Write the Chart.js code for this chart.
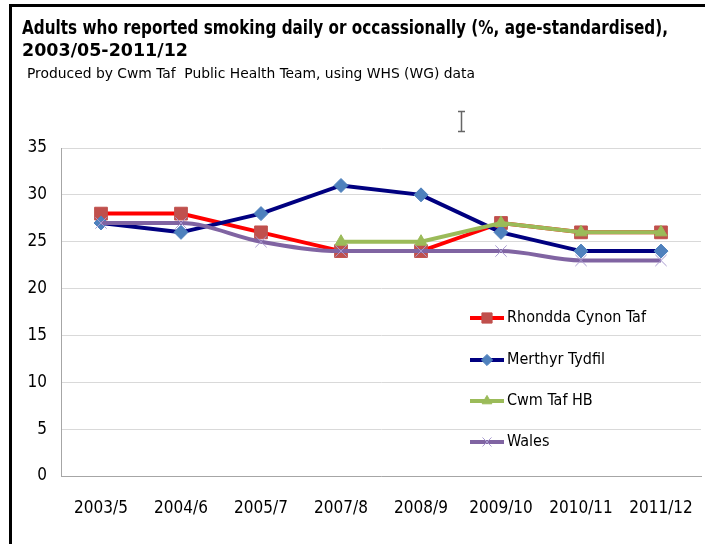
<!DOCTYPE html>
<html>
<head>
<meta charset="utf-8">
<script src="https://cdn.jsdelivr.net/npm/chart.js@4/dist/chart.umd.min.js"></script>
<style>
  html, body { margin: 0; padding: 0; background: #ffffff; }
  #wrap { position: absolute; left: 0; top: 0; width: 705px; height: 544px; }
</style>
</head>
<body>
<div id="wrap"><canvas id="c" width="705" height="544"></canvas></div>
<script>
// ---- data ----
const titleLines = ["Adults who reported smoking daily or occassionally (%, age-standardised),", "2003/05-2011/12"];
const subtitleText = "Produced by Cwm Taf  Public Health Team, using WHS (WG) data";
const categories = ["2003/5", "2004/6", "2005/7", "2007/8", "2008/9", "2009/10", "2010/11", "2011/12"];
const seriesNames = ["Rhondda Cynon Taf", "Merthyr Tydfil", "Cwm Taf HB", "Wales"];
const rhonddaCynonTaf = [28, 28, 26, 24, 24, 27, 26, 26];
const merthyrTydfil = [27, 26, 28, 31, 30, 26, 24, 24];
const cwmTafHB = [null, null, null, 25, 25, 27, 26, 26];
const wales = [27, 27, 25, 24, 24, 24, 23, 23];
const yTicks = [0, 5, 10, 15, 20, 25, 30, 35];

const FONT = "'Liberation Sans Narrow', 'DejaVu Sans Condensed', 'Liberation Sans', sans-serif";

function fitText(ctx, text, x, y, targetW) {
  const w = ctx.measureText(text).width;
  ctx.save();
  ctx.translate(x, y);
  ctx.scale(targetW / w, 1);
  ctx.fillText(text, 0, 0);
  ctx.restore();
}

const decorPlugin = {
  id: 'decor',
  beforeDraw(chart) {
    const ctx = chart.ctx;
    ctx.save();
    ctx.fillStyle = '#ffffff';
    ctx.fillRect(0, 0, chart.width, chart.height);
    ctx.fillStyle = '#000000';
    ctx.fillRect(9, 4, 3, 540);
    ctx.fillRect(9, 4, 696, 3);
    ctx.textBaseline = 'alphabetic';
    ctx.textAlign = 'left';
    ctx.font = "bold 19px " + FONT;
    fitText(ctx, titleLines[0], 22, 34, 646);
    ctx.font = "bold 18px " + FONT;
    fitText(ctx, titleLines[1], 22, 56, 166);
    ctx.font = "14px " + FONT;
    fitText(ctx, subtitleText, 27, 78, 448);
    // text-cursor (I-beam) seen in the screenshot
    ctx.strokeStyle = '#666666';
    ctx.lineWidth = 1.5;
    ctx.beginPath();
    ctx.moveTo(461.5, 112); ctx.lineTo(461.5, 131);
    ctx.moveTo(458, 111.5); ctx.lineTo(465, 111.5);
    ctx.moveTo(458, 131.5); ctx.lineTo(465, 131.5);
    ctx.stroke();
    ctx.restore();
  },
  afterDraw(chart) {
    const ctx = chart.ctx;
    const x0 = 470, lineW = 34;
    const ys = [318, 360, 401, 442];
    chart.data.datasets.forEach((ds, i) => {
      const y = ys[i];
      ctx.save();
      ctx.strokeStyle = ds.borderColor;
      ctx.lineWidth = 4;
      ctx.lineCap = 'butt';
      ctx.beginPath();
      ctx.moveTo(x0, y);
      ctx.lineTo(x0 + lineW, y);
      ctx.stroke();
      ctx.strokeStyle = ds.pointBorderColor;
      ctx.fillStyle = ds.pointBackgroundColor;
      ctx.lineWidth = ds.pointBorderWidth;
      Chart.helpers.drawPoint(ctx, {
        pointStyle: ds.pointStyle,
        radius: ds.pointRadius * 0.8,
        borderWidth: ds.pointBorderWidth,
        rotation: 0
      }, x0 + lineW / 2, y);
      ctx.restore();
      ctx.save();
      ctx.fillStyle = '#000000';
      ctx.font = "16px " + FONT;
      ctx.textBaseline = 'middle';
      ctx.textAlign = 'left';
      ctx.fillText(ds.label, x0 + lineW + 3, y);
      ctx.restore();
    });
  }
};

const datasets = [
  {
    label: seriesNames[0], data: rhonddaCynonTaf, order: 4,
    borderColor: '#ff0000', borderWidth: 4,
    pointStyle: 'rect', pointRadius: 9, pointHoverRadius: 9,
    pointBackgroundColor: '#c0504d', pointBorderColor: '#c0504d', pointBorderWidth: 1
  },
  {
    label: seriesNames[1], data: merthyrTydfil, order: 3,
    borderColor: '#000080', borderWidth: 4,
    pointStyle: 'rectRot', pointRadius: 7, pointHoverRadius: 7,
    pointBackgroundColor: '#4f81bd', pointBorderColor: '#4f81bd', pointBorderWidth: 1
  },
  {
    label: seriesNames[2], data: cwmTafHB, order: 2,
    borderColor: '#9bbb59', borderWidth: 4,
    pointStyle: 'triangle', pointRadius: 7, pointHoverRadius: 7,
    pointBackgroundColor: '#9bbb59', pointBorderColor: '#9bbb59', pointBorderWidth: 1
  },
  {
    label: seriesNames[3], data: wales, order: 1,
    borderColor: '#8064a2', borderWidth: 4,
    cubicInterpolationMode: 'monotone',
    pointStyle: 'crossRot', pointRadius: 8, pointHoverRadius: 8,
    pointBackgroundColor: '#a99bd0', pointBorderColor: '#a99bd0', pointBorderWidth: 1
  }
];

new Chart(document.getElementById('c'), {
  type: 'line',
  data: { labels: categories, datasets: datasets },
  options: {
    responsive: false,
    animation: false,
    devicePixelRatio: 1,
    spanGaps: false,
    layout: { autoPadding: false, padding: { left: 0, right: 4, top: 148, bottom: 0 } },
    plugins: { legend: { display: false }, title: { display: false }, tooltip: { enabled: false } },
    scales: {
      x: {
        offset: true,
        grid: { display: false, drawTicks: false },
        border: { display: true, color: '#a6a6a6', width: 1 },
        ticks: { color: '#000000', font: { family: FONT, size: 17 }, padding: 22, maxRotation: 0, autoSkip: false },
        afterFit(scale) { scale.height = 68; scale.paddingLeft = 0; scale.paddingRight = 0; }
      },
      y: {
        min: 0, max: 35,
        afterBuildTicks(scale) { scale.ticks = yTicks.map(v => ({ value: v })); },
        grid: { color: '#d9d9d9', lineWidth: 1, drawTicks: false },
        border: { display: true, color: '#a6a6a6', width: 1 },
        ticks: { color: '#000000', font: { family: FONT, size: 17 }, padding: 14 },
        afterFit(scale) { scale.width = 61; scale.paddingTop = 0; scale.paddingBottom = 0; }
      }
    }
  },
  plugins: [decorPlugin]
});
</script>
</body>
</html>
